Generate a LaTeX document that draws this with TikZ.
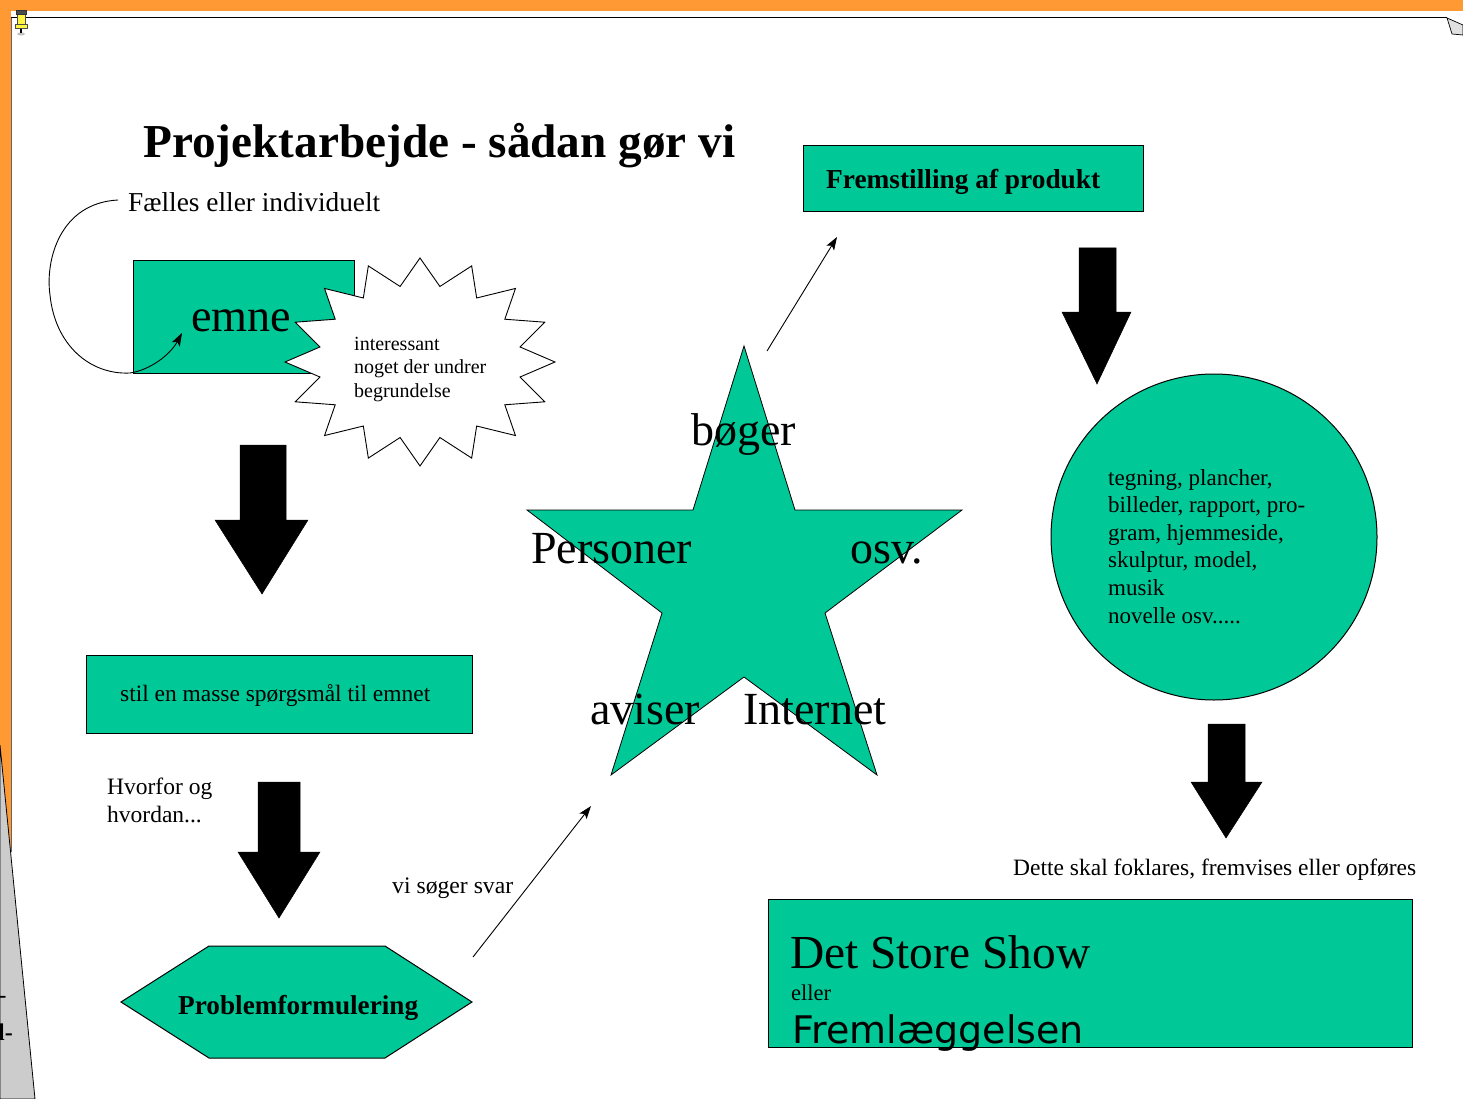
\documentclass[tikz,border=0pt]{standalone}
\usepackage{graphicx}
\usepackage{fontspec}
\setmainfont{Liberation Serif}
\newfontfamily\dvsans{DejaVu Sans}
\usetikzlibrary{arrows.meta}
\definecolor{sea}{RGB}{0,200,150}
\definecolor{frameorange}{RGB}{255,153,51}
\definecolor{panelgray}{RGB}{204,204,204}
\newcommand{\fw}[2]{\resizebox{#1pt}{!}{#2}}
\newcommand{\fsz}[2]{\fontsize{#1}{#2}\selectfont}
\begin{document}
\begin{tikzpicture}[x=1pt,y=-1pt,
  greenbox/.style={draw=black, fill=sea, line width=1pt},
  blockarrow/.style={fill=black, draw=black, line width=0.5pt},
  thinarrow/.style={line width=0.9pt, -{Stealth[length=13pt,width=9pt,inset=3pt]}},
  lbl/.style={inner sep=0pt, anchor=base west},
]
\useasboundingbox (0,0) rectangle (1463,1099);
\fill[white] (0,0) rectangle (1463,1099);
% ---- frame ----
\fill[frameorange] (0,0) rectangle (1463,11);
\fill[frameorange] (0,0) rectangle (11,852);
\draw[black!60, line width=0.6pt] (11,18) -- (11,852);
\filldraw[fill=panelgray, draw=black, line width=0.8pt] (0,745) -- (35,1099) -- (0,1099) -- cycle;
\begin{scope}
  \clip (0,745) -- (35,1099) -- (0,1099) -- cycle;
  \node[lbl] (frag1) at (-1,1002) {\fsz{22}{22}\bfseries -};
  \node[lbl] (frag2) at (-2,1040) {\fsz{24}{24}\bfseries l-};
\end{scope}
\draw[black, line width=1pt] (11,18) -- (1447,18);
\filldraw[fill=black!12, draw=black, line width=0.7pt] (1447,18) -- (1452,34) -- (1463,35) -- (1463,25) -- cycle;
% pushpin
\fill[black!25] (21,34) ellipse (4 and 1.5);
\draw[black, line width=1.2pt] (21,28) -- (21,33);
\filldraw[fill=yellow!75, draw=black!70, line width=0.5pt] (15,24) rectangle (27,28);
\filldraw[fill=yellow!75, draw=black!70, line width=0.5pt] (17,14) rectangle (25,24);
\filldraw[fill=black!70, draw=black!80] (16,10) rectangle (26,14);

% ---- title ----
\node[lbl] (title) at (143,158) {\fw{592}{\bfseries Projektarbejde - sådan gør vi}};

% ---- emne + loop ----
\node[lbl] (faelles) at (128,212) {\fw{252}{Fælles eller individuelt}};
\node[greenbox, anchor=north west, minimum width=221, minimum height=113, inner sep=0pt] (emnebox) at (133,260) {};

% starburst
\coordinate (burstc) at (420,362);
\filldraw[fill=white, draw=black, line width=0.9pt]
  plot[samples at={0,...,31}] ({420 + (mod(\x,2)==0 ? 135 : 102)*cos(90-11.25*\x)}, {362 - (mod(\x,2)==0 ? 104 : 77)*sin(90-11.25*\x)}) -- cycle;
\node[lbl] (burst) at (354,350) {\fsz{20}{23.5}\vtop{\hbox{interessant}\hbox{noget der undrer}\hbox{begrundelse}}};

\node[lbl] (emne) at (191,331) {\fw{100}{emne}};
\coordinate (loopstart) at (118,200);
\coordinate (loopend) at (182,333);
\draw[thinarrow] (loopstart) .. controls (60,203) and (45,260) .. (50,295)
   .. controls (55,345) and (90,375) .. (130,373)
   .. controls (150,370) and (170,355) .. (loopend);

% ---- block arrow 1 ----
\filldraw[blockarrow] (240,445) -- (286,445) -- (286,520) -- (308,520) -- (262,594) -- (215,520) -- (240,520) -- cycle;

% ---- stil box ----
\node[greenbox, minimum width=386, minimum height=78, inner sep=0pt] (stil) at (279,694) {};
\node[lbl] (stiltxt) at (120,701) {\fw{310}{stil en masse spørgsmål til emnet}};

\node[lbl] (hvorfor) at (107,794) {\fsz{23.5}{28}\vtop{\hbox{Hvorfor og}\hbox{hvordan...}}};

% ---- block arrow 2 ----
\filldraw[blockarrow] (258,782) -- (300,782) -- (300,852) -- (320,852) -- (279,918) -- (238,852) -- (258,852) -- cycle;

% ---- hexagon ----
\filldraw[greenbox] (121,1002) -- (209,946) -- (385,946) -- (472,1002) -- (385,1058) -- (209,1058) -- cycle;
\node[lbl] (prob) at (178,1014) {\fw{240}{\bfseries Problemformulering}};

\node[lbl] (svar) at (392,893) {\fw{121}{vi søger svar}};
\coordinate (a1s) at (473,957);
\coordinate (a1e) at (591,806);
\draw[thinarrow] (a1s) -- (a1e);

% ---- star ----
\filldraw[fill=sea, draw=black, line width=0.8pt] (744,346) -- (795,510) -- (962,510) -- (825,613) -- (877,775) -- (744,677) -- (611,775) -- (662,613) -- (527,510) -- (693,510) -- cycle;
\node[lbl] (boger) at (691,445) {\fsz{46}{46}bøger};
\node[lbl] (personer) at (531,563) {\fsz{46}{46}Personer};
\node[lbl] (osv) at (850,563) {\fsz{46}{46}osv.};
\node[lbl] (aviser) at (590,724) {\fsz{46}{46}aviser};
\node[lbl] (internet) at (743,724) {\fsz{46}{46}Internet};

\coordinate (a2s) at (767,351);
\coordinate (a2e) at (837,237);
\draw[thinarrow] (a2s) -- (a2e);

% ---- Fremstilling ----
\node[greenbox, anchor=north west, minimum width=340, minimum height=66, inner sep=0pt] (frem) at (803,145) {};
\node[lbl] (fremtxt) at (826,189) {\fw{274}{\bfseries Fremstilling af produkt}};

% ---- block arrow 3 ----
\filldraw[blockarrow] (1079,248) -- (1116,248) -- (1116,312) -- (1131,312) -- (1097,384) -- (1062,312) -- (1079,312) -- cycle;

% ---- circle ----
\node[greenbox, circle, minimum size=326, inner sep=0pt] (circ) at (1214,537) {};
\node[lbl] (circtxt) at (1108,485) {\fsz{23}{27.6}\vtop{\hbox{tegning, plancher,}\hbox{billeder, rapport, pro-}\hbox{gram, hjemmeside,}\hbox{skulptur, model,}\hbox{musik}\hbox{novelle osv.....}}};

% ---- block arrow 4 ----
\filldraw[blockarrow] (1208,724) -- (1245,724) -- (1245,782) -- (1262,782) -- (1226,838) -- (1191,782) -- (1208,782) -- cycle;

\node[lbl] (dette) at (1013,875) {\fw{403}{Dette skal foklares, fremvises eller opføres}};

% ---- show box ----
\node[greenbox, anchor=north west, minimum width=644, minimum height=148, inner sep=0pt] (show) at (768,899) {};
\node[lbl] (showtxt) at (790,968) {\fw{300}{Det Store Show}};
\node[lbl] (eller) at (791,1000) {\fw{40}{eller}};
\node[lbl] (frml) at (792,1043) {\dvsans\fsz{38}{38}Fremlæggelsen};
\end{tikzpicture}
\end{document}
